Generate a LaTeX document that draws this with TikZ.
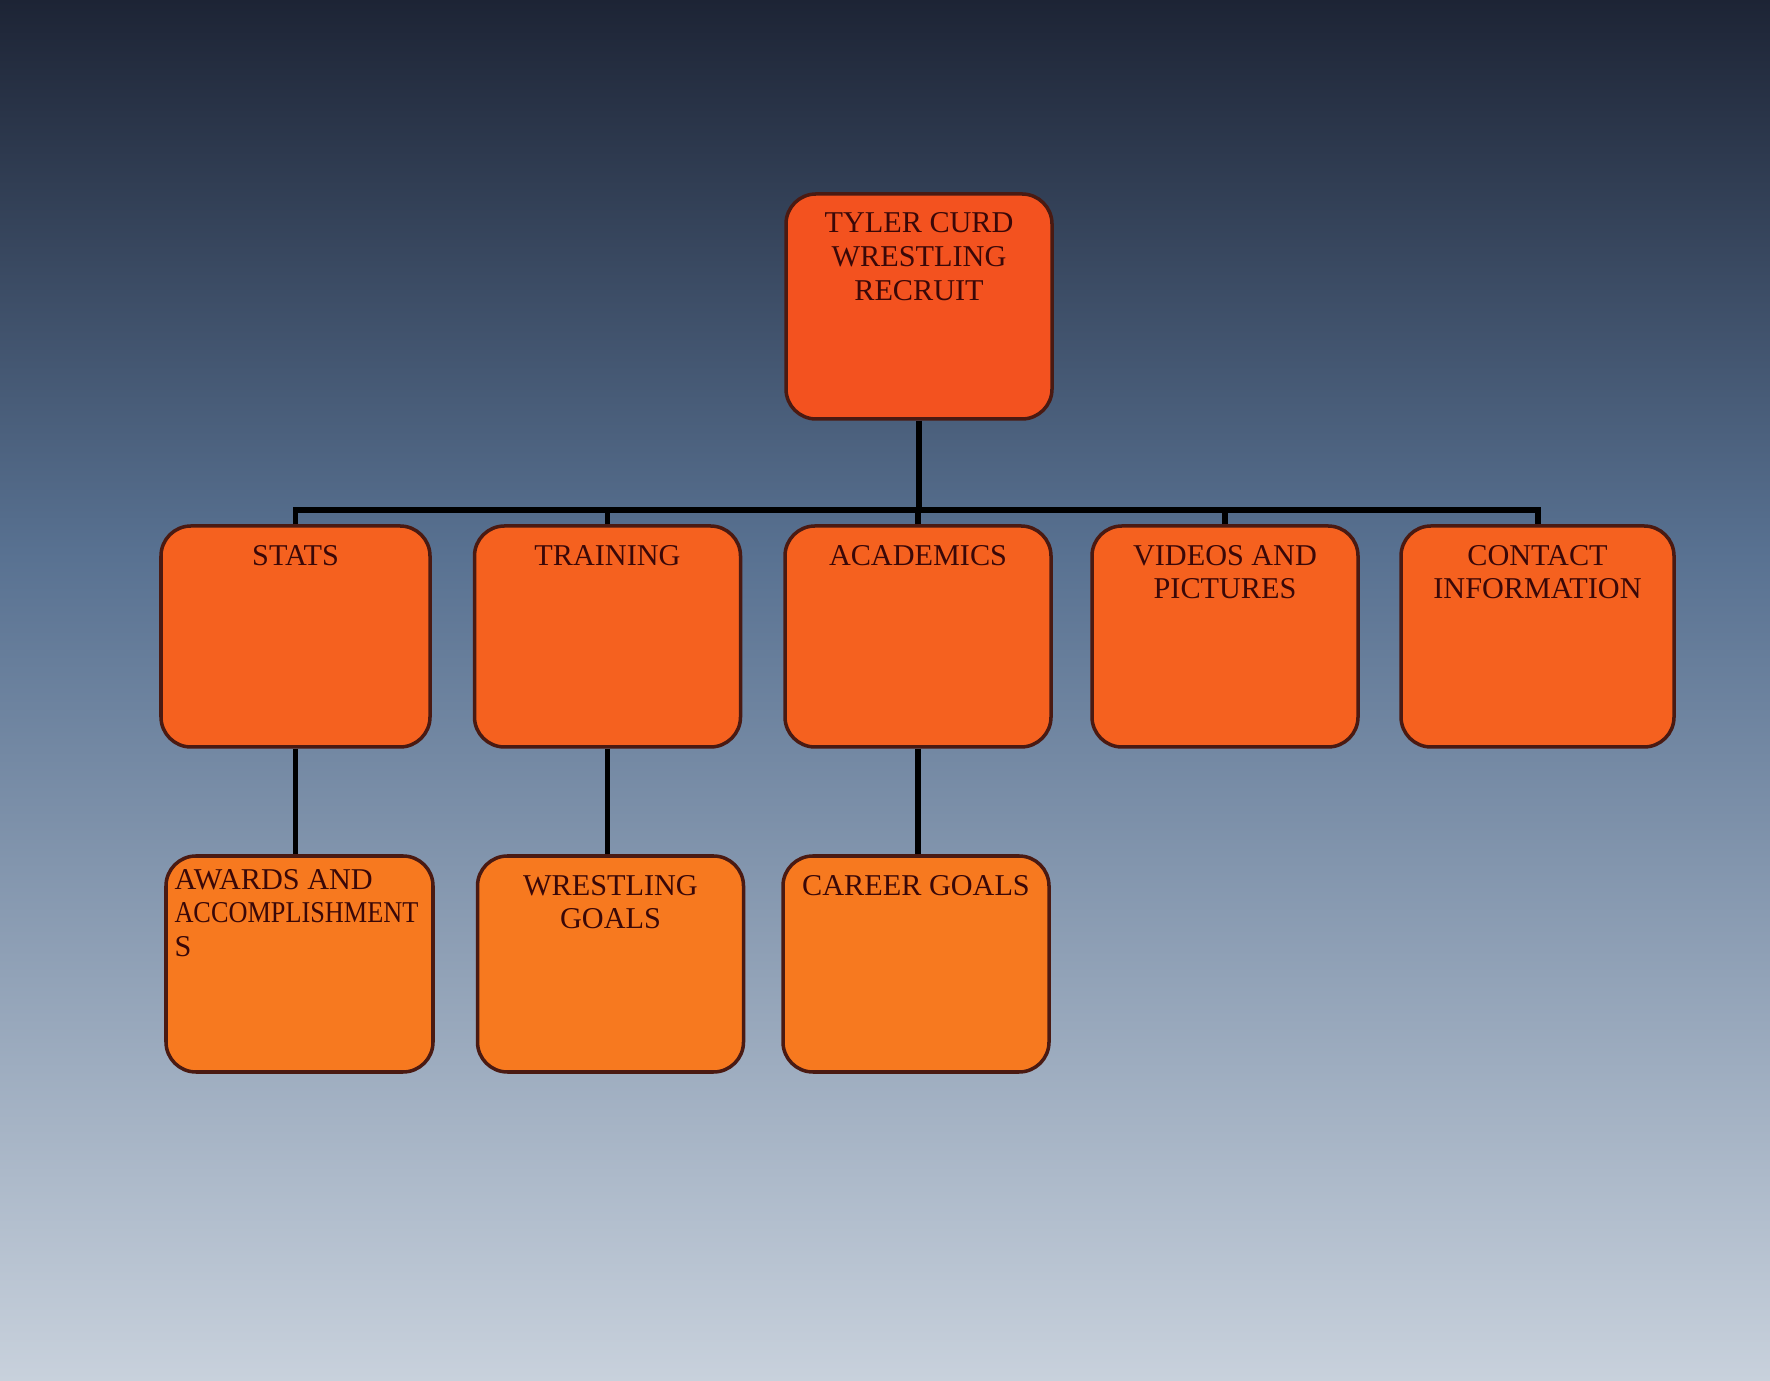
\documentclass[tikz,border=0pt]{standalone}
\usepackage{fontspec}
\usepackage{graphicx}
\setmainfont{Liberation Serif}
\usetikzlibrary{positioning, calc}

\definecolor{bgtop}{HTML}{1D2435}
\definecolor{bgmid}{HTML}{587191}
\definecolor{bgbot}{HTML}{C8D1DC}
\definecolor{cardline}{HTML}{4A1A12}
\definecolor{cardtxt}{HTML}{3A0808}
\definecolor{rowone}{HTML}{F3521F}
\definecolor{rowtwo}{HTML}{F5611F}
\definecolor{rowthree}{HTML}{F7791F}

% text block of a card, set at its top
\newcommand{\cardtext}[3][\centering]{\parbox[c][#2][t]{2.5cm}{#1#3}}

\begin{document}
\begin{tikzpicture}[
  every node/.style={font=\fontsize{8.6}{9.6}\selectfont, text=cardtxt},
  card/.style={draw=cardline, line width=1pt, rounded corners=0.3cm,
               inner xsep=0.08cm, inner ysep=0.19cm, minimum width=2.66cm},
  link/.style={draw=black, line width=1.7pt},
]
% --- background
\useasboundingbox (0,0) rectangle (17.7,13.8);
\shade[top color=bgtop, bottom color=bgmid] (0,8.3) rectangle (17.7,13.8);
\shade[top color=bgmid, bottom color=bgbot] (0,0) rectangle (17.7,8.3);

% --- row 0: root
\node[card, fill=rowone, minimum width=2.64cm] (root) at (9.19,10.735)
  {\cardtext{1.87cm}{TYLER CURD\\WRESTLING\\RECRUIT}};

% --- row 1: sections
\node[card, fill=rowtwo, minimum width=2.69cm] (stats)     at ( 2.955,7.435) {\cardtext{1.83cm}{STATS}};
\node[card, fill=rowtwo, minimum width=2.65cm] (training)  at ( 6.075,7.435) {\cardtext{1.83cm}{TRAINING}};
\node[card, fill=rowtwo, minimum width=2.62cm] (academics) at ( 9.18, 7.435) {\cardtext{1.83cm}{ACADEMICS}};
\node[card, fill=rowtwo, minimum width=2.66cm] (videos)    at (12.25, 7.435) {\cardtext{1.83cm}{VIDEOS AND\\PICTURES}};
\node[card, fill=rowtwo, minimum width=2.73cm] (contact)   at (15.375,7.435) {\cardtext{1.83cm}{CONTACT\\INFORMATION}};

\draw[link] (root.south) -- ++(0,-0.89) coordinate (bus);
\draw[link] (stats.north) |- (bus) -| (contact.north);
\draw[link] (training.north) -- (training.north |- bus);
\draw[link] (academics.north) -- (academics.north |- bus);
\draw[link] (videos.north) -- (videos.north |- bus);

% --- row 2: sub sections
\node[card, fill=rowthree, minimum width=2.67cm, inner ysep=0.13cm] (awards) at (2.995,4.16)
  {\cardtext[\raggedright]{1.9cm}{AWARDS AND\\\scalebox{0.87}[1]{ACCOMPLISHMENT}\\S}};
\node[card, fill=rowthree, minimum width=2.63cm] (goals)  at (6.105,4.16) {\cardtext{1.78cm}{WRESTLING\\GOALS}};
\node[card, fill=rowthree, minimum width=2.60cm] (career) at (9.16, 4.16) {\cardtext{1.78cm}{CAREER GOALS}};

\draw[link] (stats.south) -- (awards.north -| stats.south);
\draw[link] (training.south) -- (goals.north -| training.south);
\draw[link] (academics.south) -- (career.north -| academics.south);
\end{tikzpicture}
\end{document}
